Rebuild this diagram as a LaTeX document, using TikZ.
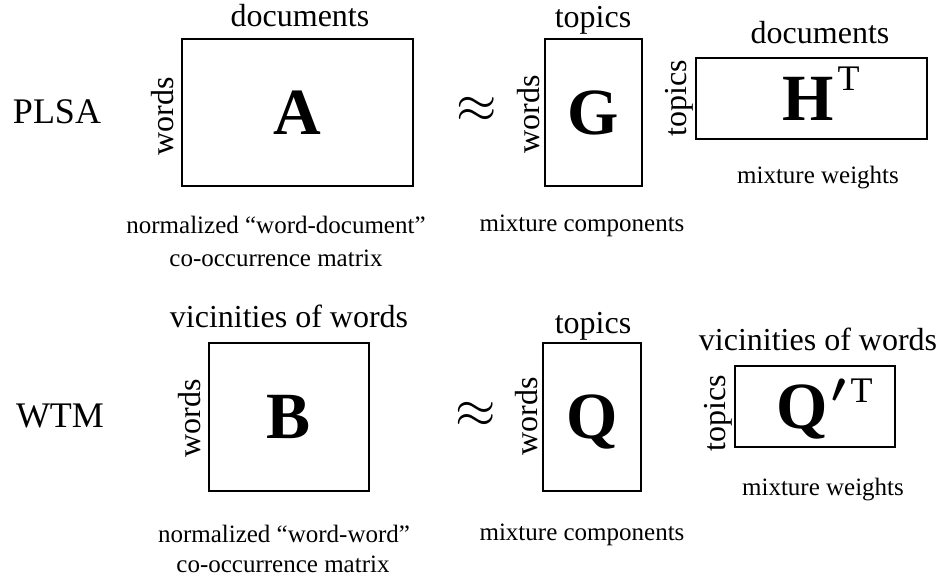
\documentclass[tikz,border=0pt]{standalone}
\usepackage{fontspec}
\setmainfont{Liberation Serif}
\tikzset{
	mat/.style={draw, line width=1.1pt, inner sep=0pt, text depth=0pt, font=\fontsize{66}{66}\selectfont\bfseries},
	lbl/.style={inner sep=0pt, anchor=base, font=\fontsize{32}{32}\selectfont},
	side/.style={lbl, rotate=90},
	capt/.style={inner sep=0pt, anchor=base, font=\fontsize{25}{25}\selectfont},
	rowname/.style={inner sep=0pt, anchor=base, font=\fontsize{36}{36}\selectfont},
	approx/.style={inner sep=0pt}
}
\newcommand{\suptr}[2]{\hspace{#1}\raisebox{#2}{\fontsize{36}{36}\mdseries\selectfont T}}
\newcommand{\primemark}{\raisebox{26pt}{\scalebox{4.2}{\normalsize\boldmath$\prime$}}}
\begin{document}
\begin{tikzpicture}[x=1pt, y=-1pt]
	\useasboundingbox (0,0) rectangle (945,584);
	% PLSA
	\node[rowname] (plsa) at (57,123) {PLSA};
	\node[mat, minimum width=231pt, minimum height=147pt] (A) at (297.5,112.5) {A};
	\node[lbl] (Atop) at (300,26) {documents};
	\node[side] (Aside) at (173,116) {words};
	\node[capt] (Acap1) at (276,233) {normalized “word-document”};
	\node[capt] (Acap2) at (276,266) {co-occurrence matrix};
	\node[approx] (eqA) at (477,110) {\scalebox{5.2}{$\approx$}};
	\node[mat, minimum width=97pt, minimum height=147pt] (G) at (593.5,112.5) {G};
	\node[lbl] (Gtop) at (593,27) {topics};
	\node[side] (Gside) at (539,114) {words};
	\node[capt] (Gcap) at (582,231) {mixture components};
	\node[mat, minimum width=231pt, minimum height=81pt] (H) at (811.5,98.5) {\hspace{-7pt}H\rlap{\smash{\suptr{4pt}{30pt}}}};
	\node[lbl] (Htop) at (820,43) {documents};
	\node[side] (Hside) at (686,98.5) {topics};
	\node[capt] (Hcap) at (818,183) {mixture weights};
	% WTM
	\node[rowname] (wtm) at (60,427) {WTM};
	\node[mat, minimum width=160pt, minimum height=148pt] (B) at (289,417) {B};
	\node[lbl] (Btop) at (289,327) {vicinities of words};
	\node[side] (Bside) at (200,418) {words};
	\node[capt] (Bcap1) at (284,542) {normalized “word-word”};
	\node[capt] (Bcap2) at (283,572) {co-occurrence matrix};
	\node[approx] (eqB) at (476,415) {\scalebox{5.2}{$\approx$}};
	\node[mat, minimum width=98pt, minimum height=148pt] (Q) at (592,417) {Q};
	\node[lbl] (Qtop) at (593,333) {topics};
	\node[side] (Qside) at (537,416) {words};
	\node[capt] (Qcap) at (582,540) {mixture components};
	\node[mat, minimum width=160pt, minimum height=81pt] (Qp) at (815,406.5) {\hspace{-25pt}Q\rlap{\smash{\hspace{3pt}\primemark\suptr{5pt}{26pt}}}};
	\node[lbl] (Qptop) at (818,350) {vicinities of words};
	\node[side] (Qpside) at (725,413) {topics};
	\node[capt] (Qpcap) at (823,495) {mixture weights};
\end{tikzpicture}
\end{document}
